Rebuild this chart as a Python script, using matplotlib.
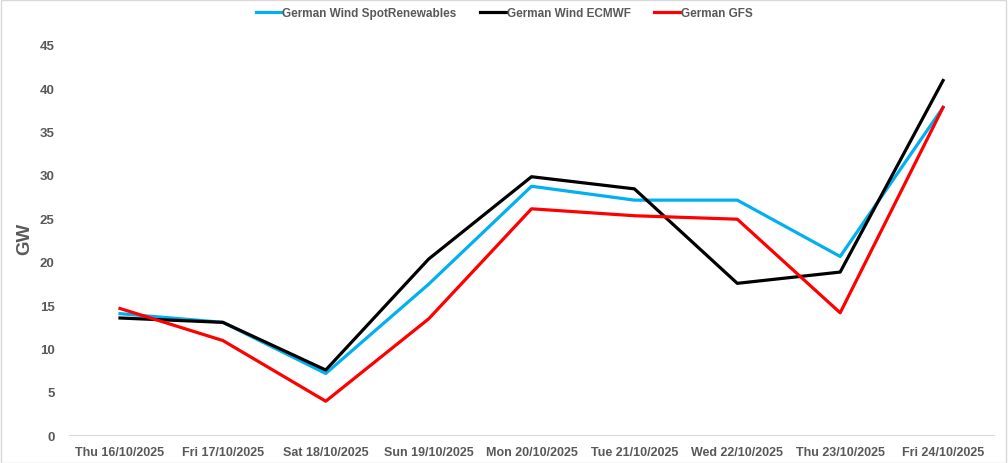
import numpy as np
import matplotlib.pyplot as plt

dates = ['Thu 16/10/2025', 'Fri 17/10/2025', 'Sat 18/10/2025', 'Sun 19/10/2025',
         'Mon 20/10/2025', 'Tue 21/10/2025', 'Wed 22/10/2025', 'Thu 23/10/2025',
         'Fri 24/10/2025']
spot = [14.0, 13.0, 7.1, 17.4, 28.7, 27.1, 27.1, 20.6, 37.8]
ecmwf = [13.5, 13.0, 7.5, 20.3, 29.8, 28.4, 17.5, 18.8, 40.9]
gfs = [14.6, 10.9, 3.9, 13.4, 26.1, 25.3, 24.9, 14.1, 37.8]

grey = '#595959'
plt.rcParams['font.family'] = ['Liberation Sans', 'DejaVu Sans']

fig = plt.figure(figsize=(10.08, 4.64), dpi=100)
ax = fig.add_axes([0.068, 0.0603, 0.9186, 0.8406])

x = np.arange(len(dates))
ax.plot(x, spot, color='#00B0F0', lw=2.3, label='German Wind SpotRenewables')
ax.plot(x, ecmwf, color='black', lw=2.3, label='German Wind ECMWF')
ax.plot(x, gfs, color='#FF0000', lw=2.3, label='German GFS')

ax.set_xlim(-0.5, len(dates) - 0.5)
ax.set_ylim(0, 45)
ax.set_yticks(range(0, 46, 5))
ax.set_xticks(x)
ax.set_xticklabels(dates)
ax.tick_params(axis='both', length=0, labelsize=9, labelcolor=grey)
ax.tick_params(axis='y', pad=10, labelsize=9.5)
ax.tick_params(axis='x', pad=8)
for lbl in ax.get_xticklabels() + ax.get_yticklabels():
    lbl.set_fontweight('bold')

for s in ['top', 'right', 'left']:
    ax.spines[s].set_visible(False)
ax.spines['bottom'].set_color('#d9d9d9')

ax.set_ylabel('GW', fontsize=13.5, fontweight='bold', color=grey)
ax.yaxis.set_label_coords(-0.0385, 0.505)

fig.legend(loc='upper center', bbox_to_anchor=(0.5, 1.005), ncol=3, frameon=False,
           prop={'size': 8.5, 'weight': 'bold'}, labelcolor=grey,
           handlelength=2.2, handletextpad=0.05, columnspacing=2.0)

border = plt.Rectangle((0.001, 0.001), 0.997, 0.997, transform=fig.transFigure,
                       fill=False, edgecolor='#d9d9d9', lw=1)
fig.patches.append(border)

fig.savefig('out.png', dpi=100)
